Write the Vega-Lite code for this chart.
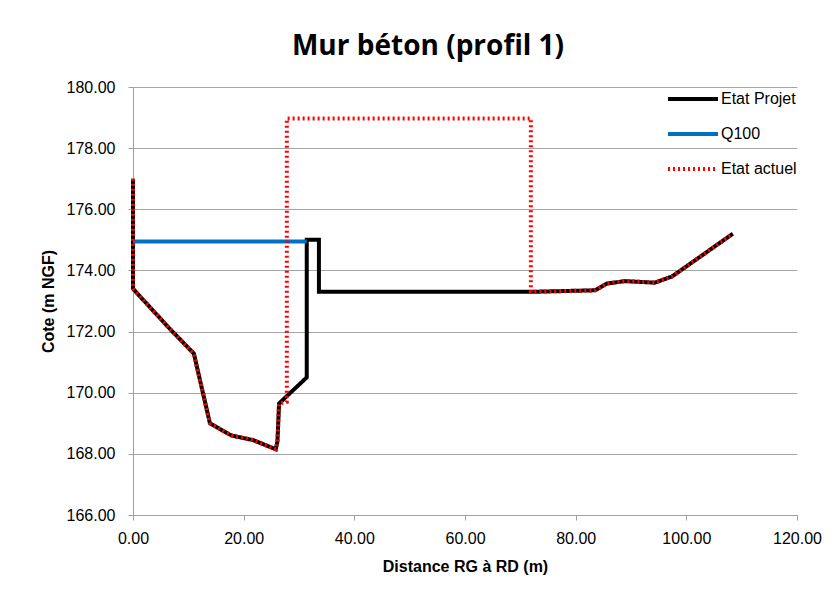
{
  "$schema": "https://vega.github.io/schema/vega-lite/v6.json",
  "width": 664,
  "height": 428,
  "autosize": {"type": "none"},
  "padding": {"left": 133, "top": 87, "right": 43, "bottom": 83},
  "background": "white",
  "title": {"text": "Mur béton (profil 1)", "font": "Open Sans", "fontSize": 28, "fontWeight": "bold", "color": "black", "anchor": "middle", "offset": 11, "dx": -37},
  "data": {"values": [
    {"serie": "Etat Projet", "i": 0, "x": 0, "y": 177.0},
    {"serie": "Etat Projet", "i": 1, "x": 0, "y": 173.4},
    {"serie": "Etat Projet", "i": 2, "x": 6.6, "y": 172.1},
    {"serie": "Etat Projet", "i": 3, "x": 11.0, "y": 171.28},
    {"serie": "Etat Projet", "i": 4, "x": 13.9, "y": 169.0},
    {"serie": "Etat Projet", "i": 5, "x": 17.8, "y": 168.6},
    {"serie": "Etat Projet", "i": 6, "x": 21.7, "y": 168.45},
    {"serie": "Etat Projet", "i": 7, "x": 25.8, "y": 168.15},
    {"serie": "Etat Projet", "i": 8, "x": 26.1, "y": 168.4},
    {"serie": "Etat Projet", "i": 9, "x": 26.4, "y": 169.65},
    {"serie": "Etat Projet", "i": 10, "x": 31.4, "y": 170.5},
    {"serie": "Etat Projet", "i": 11, "x": 31.4, "y": 175.0},
    {"serie": "Etat Projet", "i": 12, "x": 33.6, "y": 175.0},
    {"serie": "Etat Projet", "i": 13, "x": 33.6, "y": 173.3},
    {"serie": "Etat Projet", "i": 14, "x": 71.9, "y": 173.3},
    {"serie": "Etat Projet", "i": 15, "x": 83.5, "y": 173.35},
    {"serie": "Etat Projet", "i": 16, "x": 85.6, "y": 173.57},
    {"serie": "Etat Projet", "i": 17, "x": 88.9, "y": 173.65},
    {"serie": "Etat Projet", "i": 18, "x": 94.3, "y": 173.6},
    {"serie": "Etat Projet", "i": 19, "x": 97.4, "y": 173.8},
    {"serie": "Etat Projet", "i": 20, "x": 108.4, "y": 175.2},
    {"serie": "Q100", "i": 0, "x": 0, "y": 174.95},
    {"serie": "Q100", "i": 1, "x": 31.4, "y": 174.95},
    {"serie": "Etat actuel", "i": 0, "x": 0, "y": 177.0},
    {"serie": "Etat actuel", "i": 1, "x": 0, "y": 173.4},
    {"serie": "Etat actuel", "i": 2, "x": 6.6, "y": 172.1},
    {"serie": "Etat actuel", "i": 3, "x": 11.0, "y": 171.28},
    {"serie": "Etat actuel", "i": 4, "x": 13.9, "y": 169.0},
    {"serie": "Etat actuel", "i": 5, "x": 17.8, "y": 168.6},
    {"serie": "Etat actuel", "i": 6, "x": 21.7, "y": 168.45},
    {"serie": "Etat actuel", "i": 7, "x": 25.8, "y": 168.15},
    {"serie": "Etat actuel", "i": 8, "x": 26.1, "y": 168.4},
    {"serie": "Etat actuel", "i": 9, "x": 26.4, "y": 169.65},
    {"serie": "Etat actuel", "i": 10, "x": 27.8, "y": 169.7},
    {"serie": "Etat actuel", "i": 11, "x": 27.8, "y": 178.97},
    {"serie": "Etat actuel", "i": 12, "x": 71.9, "y": 178.97},
    {"serie": "Etat actuel", "i": 13, "x": 71.9, "y": 173.3},
    {"serie": "Etat actuel", "i": 14, "x": 83.5, "y": 173.35},
    {"serie": "Etat actuel", "i": 15, "x": 85.6, "y": 173.57},
    {"serie": "Etat actuel", "i": 16, "x": 88.9, "y": 173.65},
    {"serie": "Etat actuel", "i": 17, "x": 94.3, "y": 173.6},
    {"serie": "Etat actuel", "i": 18, "x": 97.4, "y": 173.8},
    {"serie": "Etat actuel", "i": 19, "x": 108.4, "y": 175.2}
  ]},
  "encoding": {
    "x": {"field": "x", "type": "quantitative",
      "scale": {"domain": [0, 120], "nice": false, "zero": false},
      "axis": {"title": "Distance RG à RD (m)", "values": [0, 20, 40, 60, 80, 100, 120], "format": ".2f", "grid": false, "labelFlush": false}},
    "y": {"field": "y", "type": "quantitative",
      "scale": {"domain": [166, 180], "nice": false, "zero": false},
      "axis": {"title": "Cote (m NGF)", "values": [166, 168, 170, 172, 174, 176, 178, 180], "format": ".2f", "grid": true, "labelFlush": false}},
    "order": {"field": "i", "type": "quantitative"},
    "color": {"field": "serie", "type": "nominal",
      "scale": {"domain": ["Etat Projet", "Q100", "Etat actuel"], "range": ["#000000", "#0070C0", "#FF0000"]},
      "legend": {"title": null}},
    "strokeDash": {"field": "serie", "type": "nominal",
      "scale": {"domain": ["Etat Projet", "Q100", "Etat actuel"], "range": [[1, 0], [1, 0], [2, 3]]},
      "legend": {"title": null}},
    "strokeWidth": {"field": "serie", "type": "nominal",
      "scale": {"domain": ["Etat Projet", "Q100", "Etat actuel"], "range": [4, 4, 2.3]},
      "legend": {"title": null}}
  },
  "layer": [
    {"transform": [{"filter": "datum.serie === 'Etat Projet'"}], "mark": {"type": "line", "strokeJoin": "miter", "strokeCap": "butt"}},
    {"transform": [{"filter": "datum.serie === 'Q100'"}], "mark": {"type": "line"}},
    {"transform": [{"filter": "datum.serie === 'Etat actuel'"}], "mark": {"type": "line"}}
  ],
  "config": {
    "view": {"stroke": null},
    "font": "Liberation Sans",
    "axis": {
      "labelFont": "Liberation Sans", "labelFontSize": 16, "labelColor": "black",
      "titleFont": "Liberation Sans", "titleFontSize": 16, "titleFontWeight": "bold", "titleColor": "black",
      "domainColor": "#A0A0A0", "tickColor": "#A0A0A0", "gridColor": "#A6A6A6", "gridWidth": 1,
      "tickSize": 5
    },
    "axisX": {"titlePadding": 12, "labelPadding": 10},
    "axisY": {"titlePadding": 10, "labelPadding": 13},
    "legend": {
      "orient": "none", "legendX": 533, "legendY": -15,
      "symbolType": "stroke", "symbolSize": 2500, "labelFont": "Liberation Sans", "labelFontSize": 16,
      "labelColor": "black", "labelOffset": 1, "rowPadding": -1.3
    }
  }
}
